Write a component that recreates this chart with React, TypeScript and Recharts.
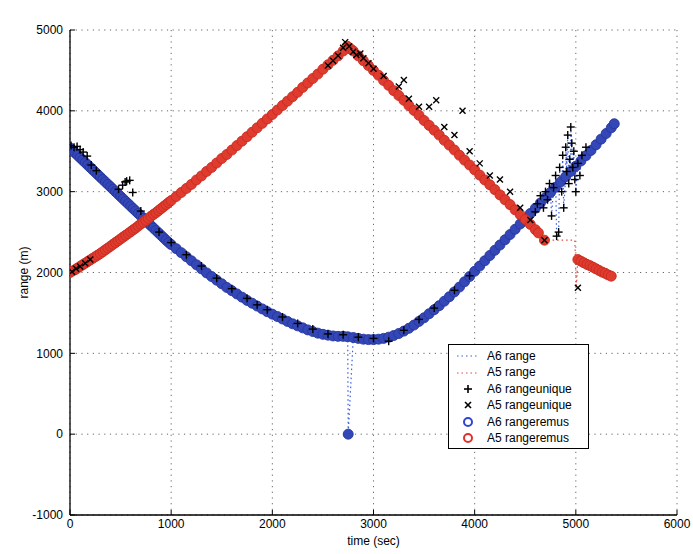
import React from 'react';
import { ScatterChart, Scatter, XAxis, YAxis, CartesianGrid, Legend, Label } from 'recharts';

const xTicks = [0, 1000, 2000, 3000, 4000, 5000, 6000];
const yTicks = [-1000, 0, 1000, 2000, 3000, 4000, 5000];

// A6 rangeremus (blue circles): [time, range]
const a6Remus: [number, number][] = [
  [0,3540],[25,3510],[50,3480],[75,3450],[100,3420],[125,3390],[150,3360],[175,3330],[200,3300],[225,3270],[250,3240],[275,3210],[300,3180],[325,3150],[350,3120],[375,3090],[400,3060],[425,3030],[450,3000],[475,2970],
  [500,2940],[525,2910],[550,2880],[575,2850],[600,2820],[625,2790],[650,2760],[675,2730],[700,2700],[725,2670],[750,2640],[775,2610],[800,2580],[825,2550],[850,2520],[875,2490],[900,2460],[925,2430],[950,2400],[975,2372],
  [1000,2345],[1050,2295],[1100,2245],[1150,2195],[1200,2145],[1250,2095],[1300,2045],[1350,1995],[1400,1950],[1450,1905],
  [1500,1860],[1550,1815],[1600,1775],[1650,1735],[1700,1695],[1750,1655],[1800,1620],[1850,1585],[1900,1550],[1950,1515],
  [2000,1485],[2050,1455],[2100,1425],[2150,1395],[2200,1365],[2250,1340],[2300,1315],[2350,1290],[2400,1270],[2450,1250],
  [2500,1235],[2550,1225],[2600,1215],[2650,1210],[2700,1210],[2745,1205],[2800,1195],[2850,1185],[2900,1175],[2950,1170],
  [3000,1170],[3050,1175],[3100,1185],[3150,1200],[3200,1220],[3250,1245],[3300,1275],[3350,1310],[3400,1350],[3450,1395],
  [3500,1440],[3550,1490],[3600,1540],[3650,1590],[3700,1645],[3750,1700],[3800,1760],[3850,1820],[3900,1885],[3950,1950],
  [4000,2015],[4050,2080],[4100,2145],[4150,2210],[4200,2275],[4250,2340],[4300,2405],[4350,2470],[4400,2535],[4450,2600],
  [4500,2665],[4550,2730],[4600,2795],[4650,2860],[4700,2925],[4750,2990],[4800,3055],[4850,3120],[4900,3185],[4950,3250],
  [5000,3315],[5050,3380],[5100,3445],[5150,3510],[5200,3580],[5250,3650],[5300,3720],[5350,3790],[5380,3840],
];
const a6Outlier: [number, number][] = [[2750, 0]];

// A5 rangeremus (red circles)
const a5Remus: [number, number][] = [
  [0,2000],[25,2018],[50,2035],[75,2055],[100,2075],[125,2095],[150,2115],[175,2135],[200,2155],[225,2175],[250,2195],[275,2215],[300,2235],[325,2258],[350,2280],[375,2302],[400,2325],[425,2348],[450,2370],[475,2392],
  [500,2415],[525,2438],[550,2460],[575,2482],[600,2505],[625,2528],[650,2550],[675,2575],[700,2600],[725,2622],[750,2645],[775,2670],[800,2695],[825,2718],[850,2740],[875,2765],[900,2790],[925,2815],[950,2840],[975,2865],
  [1000,2890],[1050,2940],[1100,2990],[1150,3040],[1200,3090],[1250,3145],[1300,3195],[1350,3250],[1400,3300],[1450,3355],
  [1500,3410],[1550,3460],[1600,3515],[1650,3570],[1700,3625],[1750,3680],[1800,3735],[1850,3790],[1900,3845],[1950,3900],
  [2000,3955],[2050,4010],[2100,4065],[2150,4120],[2200,4175],[2250,4230],[2300,4290],[2350,4345],[2400,4400],[2450,4455],
  [2500,4515],[2550,4570],[2600,4625],[2650,4680],[2700,4740],[2740,4800],[2780,4760],[2800,4740],[2850,4680],[2900,4620],[2950,4560],
  [3000,4500],[3050,4440],[3100,4375],[3150,4315],[3200,4250],[3250,4190],[3300,4130],[3350,4065],[3400,4005],[3450,3945],
  [3500,3880],[3550,3820],[3600,3760],[3650,3700],[3700,3635],[3750,3575],[3800,3515],[3850,3450],[3900,3390],[3950,3330],
  [4000,3270],[4050,3205],[4100,3145],[4150,3085],[4200,3025],[4250,2960],[4300,2900],[4350,2840],[4400,2775],[4450,2715],
  [4500,2655],[4550,2595],[4600,2530],[4630,2490],[4690,2400],
  [5020,2160],[5050,2140],[5080,2120],[5110,2100],[5140,2085],[5170,2065],[5200,2045],[5230,2025],[5260,2005],[5290,1990],
  [5320,1970],[5350,1955],
];
const a5RangeGap: [number, number][] = [[4990, 2400], [5005, 1810]];

// A6 rangeunique (+) along the curve
const a6UniqueAlong: [number, number][] = [
  [10,3570],[40,3550],[70,3560],[100,3520],[130,3490],[170,3440],[210,3330],[260,3260],[480,3030],[520,3080],[545,3120],[560,3130],[590,3140],[620,2990],
  [700,2760],[880,2500],[1000,2370],[1150,2220],[1300,2080],[1450,1930],[1600,1800],[1750,1680],[1850,1600],[1950,1540],[2100,1450],
  [2250,1370],[2400,1300],[2550,1240],[2700,1230],[2850,1200],[3000,1185],[3150,1150],[3300,1285],[3450,1420],[3600,1560],
  [3800,1780],[3950,1960],
];
// A6 rangeunique (+) scattered cluster near the end
const a6UniqueCluster: [number, number][] = [
  [4600,2750],[4620,2850],[4650,2950],[4680,2800],[4700,3000],[4720,2900],[4740,3100],[4760,2700],[4780,3050],[4800,3200],
  [4810,2450],[4830,2500],[4840,3300],[4860,3000],[4870,3450],[4880,2800],[4900,3550],[4910,3250],[4920,3700],[4930,3100],
  [4940,3400],[4950,3800],[4960,3600],[4970,3300],[4980,3500],[4990,3150],[5000,3000],[5020,3350],[5040,3200],[5060,3450],[5100,3550],
];

// A5 rangeunique (x)
const a5Unique: [number, number][] = [
  [20,2010],[60,2045],[100,2075],[150,2115],[200,2160],[2550,4560],[2600,4620],[2650,4680],[2700,4780],[2720,4850],
  [2760,4800],[2800,4730],[2830,4690],[2870,4710],[2900,4650],[2950,4590],[3000,4520],[3100,4430],[3250,4300],[3300,4380],
  [3350,4150],[3450,4050],[3550,4050],[3620,4130],[3700,3800],[3800,3700],[3880,4000],[3950,3500],[4050,3350],[4150,3200],
  [4250,3150],[4350,3000],[4450,2800],[4550,2650],[4690,2400],[5020,1810],
];

const toPts = (arr: [number, number][]) => arr.map(([t, r]) => ({ t, r }));
const byTime = (arr: [number, number][]) => [...arr].sort((a, b) => a[0] - b[0]);

const a6RangeData = toPts(byTime([...a6Remus, ...a6Outlier, ...a6UniqueCluster]));
const a5RangeData = toPts(byTime([...a5Remus, ...a5RangeGap]));

const BLUE_STROKE = '#26359f';
const BLUE_FILL = '#3447b6';
const RED_STROKE = '#c92a20';
const RED_FILL = '#df3c2f';
const BLUE_LINE = '#3a5ee0';
const RED_LINE = '#e04848';

const circleShape = (stroke: string, fill: string) => (p: any) => (
  <circle cx={p.cx} cy={p.cy} r={5} stroke={stroke} strokeWidth={0.9} fill={fill} />
);
const plusShape = (p: any) => (
  <g stroke="#000" strokeWidth={1.4}>
    <line x1={p.cx - 4} y1={p.cy} x2={p.cx + 4} y2={p.cy} />
    <line x1={p.cx} y1={p.cy - 4} x2={p.cx} y2={p.cy + 4} />
  </g>
);
const crossShape = (p: any) => (
  <g stroke="#000" strokeWidth={1.4}>
    <line x1={p.cx - 3} y1={p.cy - 3} x2={p.cx + 3} y2={p.cy + 3} />
    <line x1={p.cx - 3} y1={p.cy + 3} x2={p.cx + 3} y2={p.cy - 3} />
  </g>
);
const noShape = () => <g />;

const legendRows = [
  { label: 'A6 range', kind: 'line', color: BLUE_LINE },
  { label: 'A5 range', kind: 'line', color: RED_LINE },
  { label: 'A6 rangeunique', kind: 'plus', color: '#000' },
  { label: 'A5 rangeunique', kind: 'cross', color: '#000' },
  { label: 'A6 rangeremus', kind: 'circle', color: '#2f45d0' },
  { label: 'A5 rangeremus', kind: 'circle', color: '#e0302a' },
];

const LegendBox = () => (
  <div style={{ border: '1px solid #000', background: '#fff', padding: '3px 0 2px 0', width: 139, fontSize: 12, lineHeight: '16.4px', color: '#000' }}>
    {legendRows.map((row) => (
      <div key={row.label} style={{ display: 'flex', alignItems: 'center', height: 16.4 }}>
        <svg width={38} height={16} style={{ flex: 'none' }}>
          {row.kind === 'line' && (
            <line x1={8} y1={8} x2={30} y2={8} stroke={row.color} strokeWidth={1.2} strokeDasharray="1.5 3" />
          )}
          {row.kind === 'plus' && (
            <g stroke="#000" strokeWidth={1.6}>
              <line x1={15} y1={8} x2={23} y2={8} />
              <line x1={19} y1={4} x2={19} y2={12} />
            </g>
          )}
          {row.kind === 'cross' && (
            <g stroke="#000" strokeWidth={1.6}>
              <line x1={16} y1={5} x2={22} y2={11} />
              <line x1={16} y1={11} x2={22} y2={5} />
            </g>
          )}
          {row.kind === 'circle' && <circle cx={19} cy={8} r={4} stroke={row.color} strokeWidth={2} fill="none" />}
        </svg>
        <span style={{ whiteSpace: 'nowrap' }}>{row.label}</span>
      </div>
    ))}
  </div>
);

const YLabel = (props: any) => {
  const vb = props.viewBox || {};
  const x = 24;
  const y = (vb.y ?? 30) + (vb.height ?? 485) / 2;
  return (
    <text x={x} y={y} transform={`rotate(-90, ${x}, ${y})`} textAnchor="middle" dominantBaseline="central" fontSize={12} fill="#000">
      range (m)
    </text>
  );
};

export default function App() {
  return (
    <div style={{ position: 'absolute', left: 0, top: 0, width: 693, height: 554, background: '#fff', fontFamily: '"Liberation Sans", Arial, Helvetica, sans-serif' }}>
      <ScatterChart width={693} height={554} margin={{ top: 30, right: 16, bottom: 0, left: 0 }}>
        <CartesianGrid xAxisId="x" yAxisId="y" stroke="#666" strokeDasharray="1.2 4.5" strokeWidth={1} />
        <XAxis xAxisId="x" dataKey="t" type="number" domain={[0, 6000]} ticks={xTicks} allowDataOverflow
          height={39} tickSize={-5} tickMargin={9} interval={0}
          axisLine={{ stroke: '#000', strokeWidth: 1.3 }} tickLine={{ stroke: '#000' }}
          tick={{ fill: '#000', fontSize: 12 }}>
          <Label value="time (sec)" position="insideBottom" offset={9} fill="#000" fontSize={12} />
        </XAxis>
        <XAxis xAxisId="top" orientation="top" dataKey="t" type="number" domain={[0, 6000]} ticks={xTicks} allowDataOverflow
          height={0} tickSize={-5} tick={false} interval={0}
          axisLine={{ stroke: '#000', strokeWidth: 1.3 }} tickLine={{ stroke: '#000' }}>
          <Label value="LEO-15 07/19/99 - ranges vs. time" position="top" offset={11} fill="#000" fontSize={12} />
        </XAxis>
        <YAxis yAxisId="y" dataKey="r" type="number" domain={[-1000, 5000]} ticks={yTicks} allowDataOverflow
          width={70} tickSize={-5} tickMargin={12} interval={0}
          axisLine={{ stroke: '#000', strokeWidth: 1.3 }} tickLine={{ stroke: '#000' }}
          tick={{ fill: '#000', fontSize: 12 }}>
          <Label content={<YLabel />} />
        </YAxis>
        <YAxis yAxisId="right" orientation="right" dataKey="r" type="number" domain={[-1000, 5000]} ticks={yTicks} allowDataOverflow
          width={0} tickSize={-5} tick={false} interval={0}
          axisLine={{ stroke: '#000', strokeWidth: 1.3 }} tickLine={{ stroke: '#000' }} />

        <Scatter name="A6 range" xAxisId="x" yAxisId="y" data={a6RangeData} dataKey="r" isAnimationActive={false}
          line={{ stroke: BLUE_LINE, strokeWidth: 1.2, strokeDasharray: '1.5 3' }} lineType="joint" shape={noShape} />
        <Scatter name="A5 range" xAxisId="x" yAxisId="y" data={a5RangeData} dataKey="r" isAnimationActive={false}
          line={{ stroke: RED_LINE, strokeWidth: 1.2, strokeDasharray: '1.5 3' }} lineType="joint" shape={noShape} />
        <Scatter name="A6 rangeremus" xAxisId="x" yAxisId="y" data={toPts([...a6Remus, ...a6Outlier])} dataKey="r" isAnimationActive={false}
          shape={circleShape(BLUE_STROKE, BLUE_FILL)} />
        <Scatter name="A5 rangeremus" xAxisId="x" yAxisId="y" data={toPts(a5Remus)} dataKey="r" isAnimationActive={false}
          shape={circleShape(RED_STROKE, RED_FILL)} />
        <Scatter name="A6 rangeunique" xAxisId="x" yAxisId="y" data={toPts([...a6UniqueAlong, ...a6UniqueCluster])} dataKey="r" isAnimationActive={false}
          shape={plusShape} />
        <Scatter name="A5 rangeunique" xAxisId="x" yAxisId="y" data={toPts(a5Unique)} dataKey="r" isAnimationActive={false}
          shape={crossShape} />

        <Legend layout="horizontal" verticalAlign="middle" align="center" content={<LegendBox />}
          wrapperStyle={{ position: 'absolute', left: 448, top: 344, width: 141, height: 105 }} />
      </ScatterChart>
    </div>
  );
}
